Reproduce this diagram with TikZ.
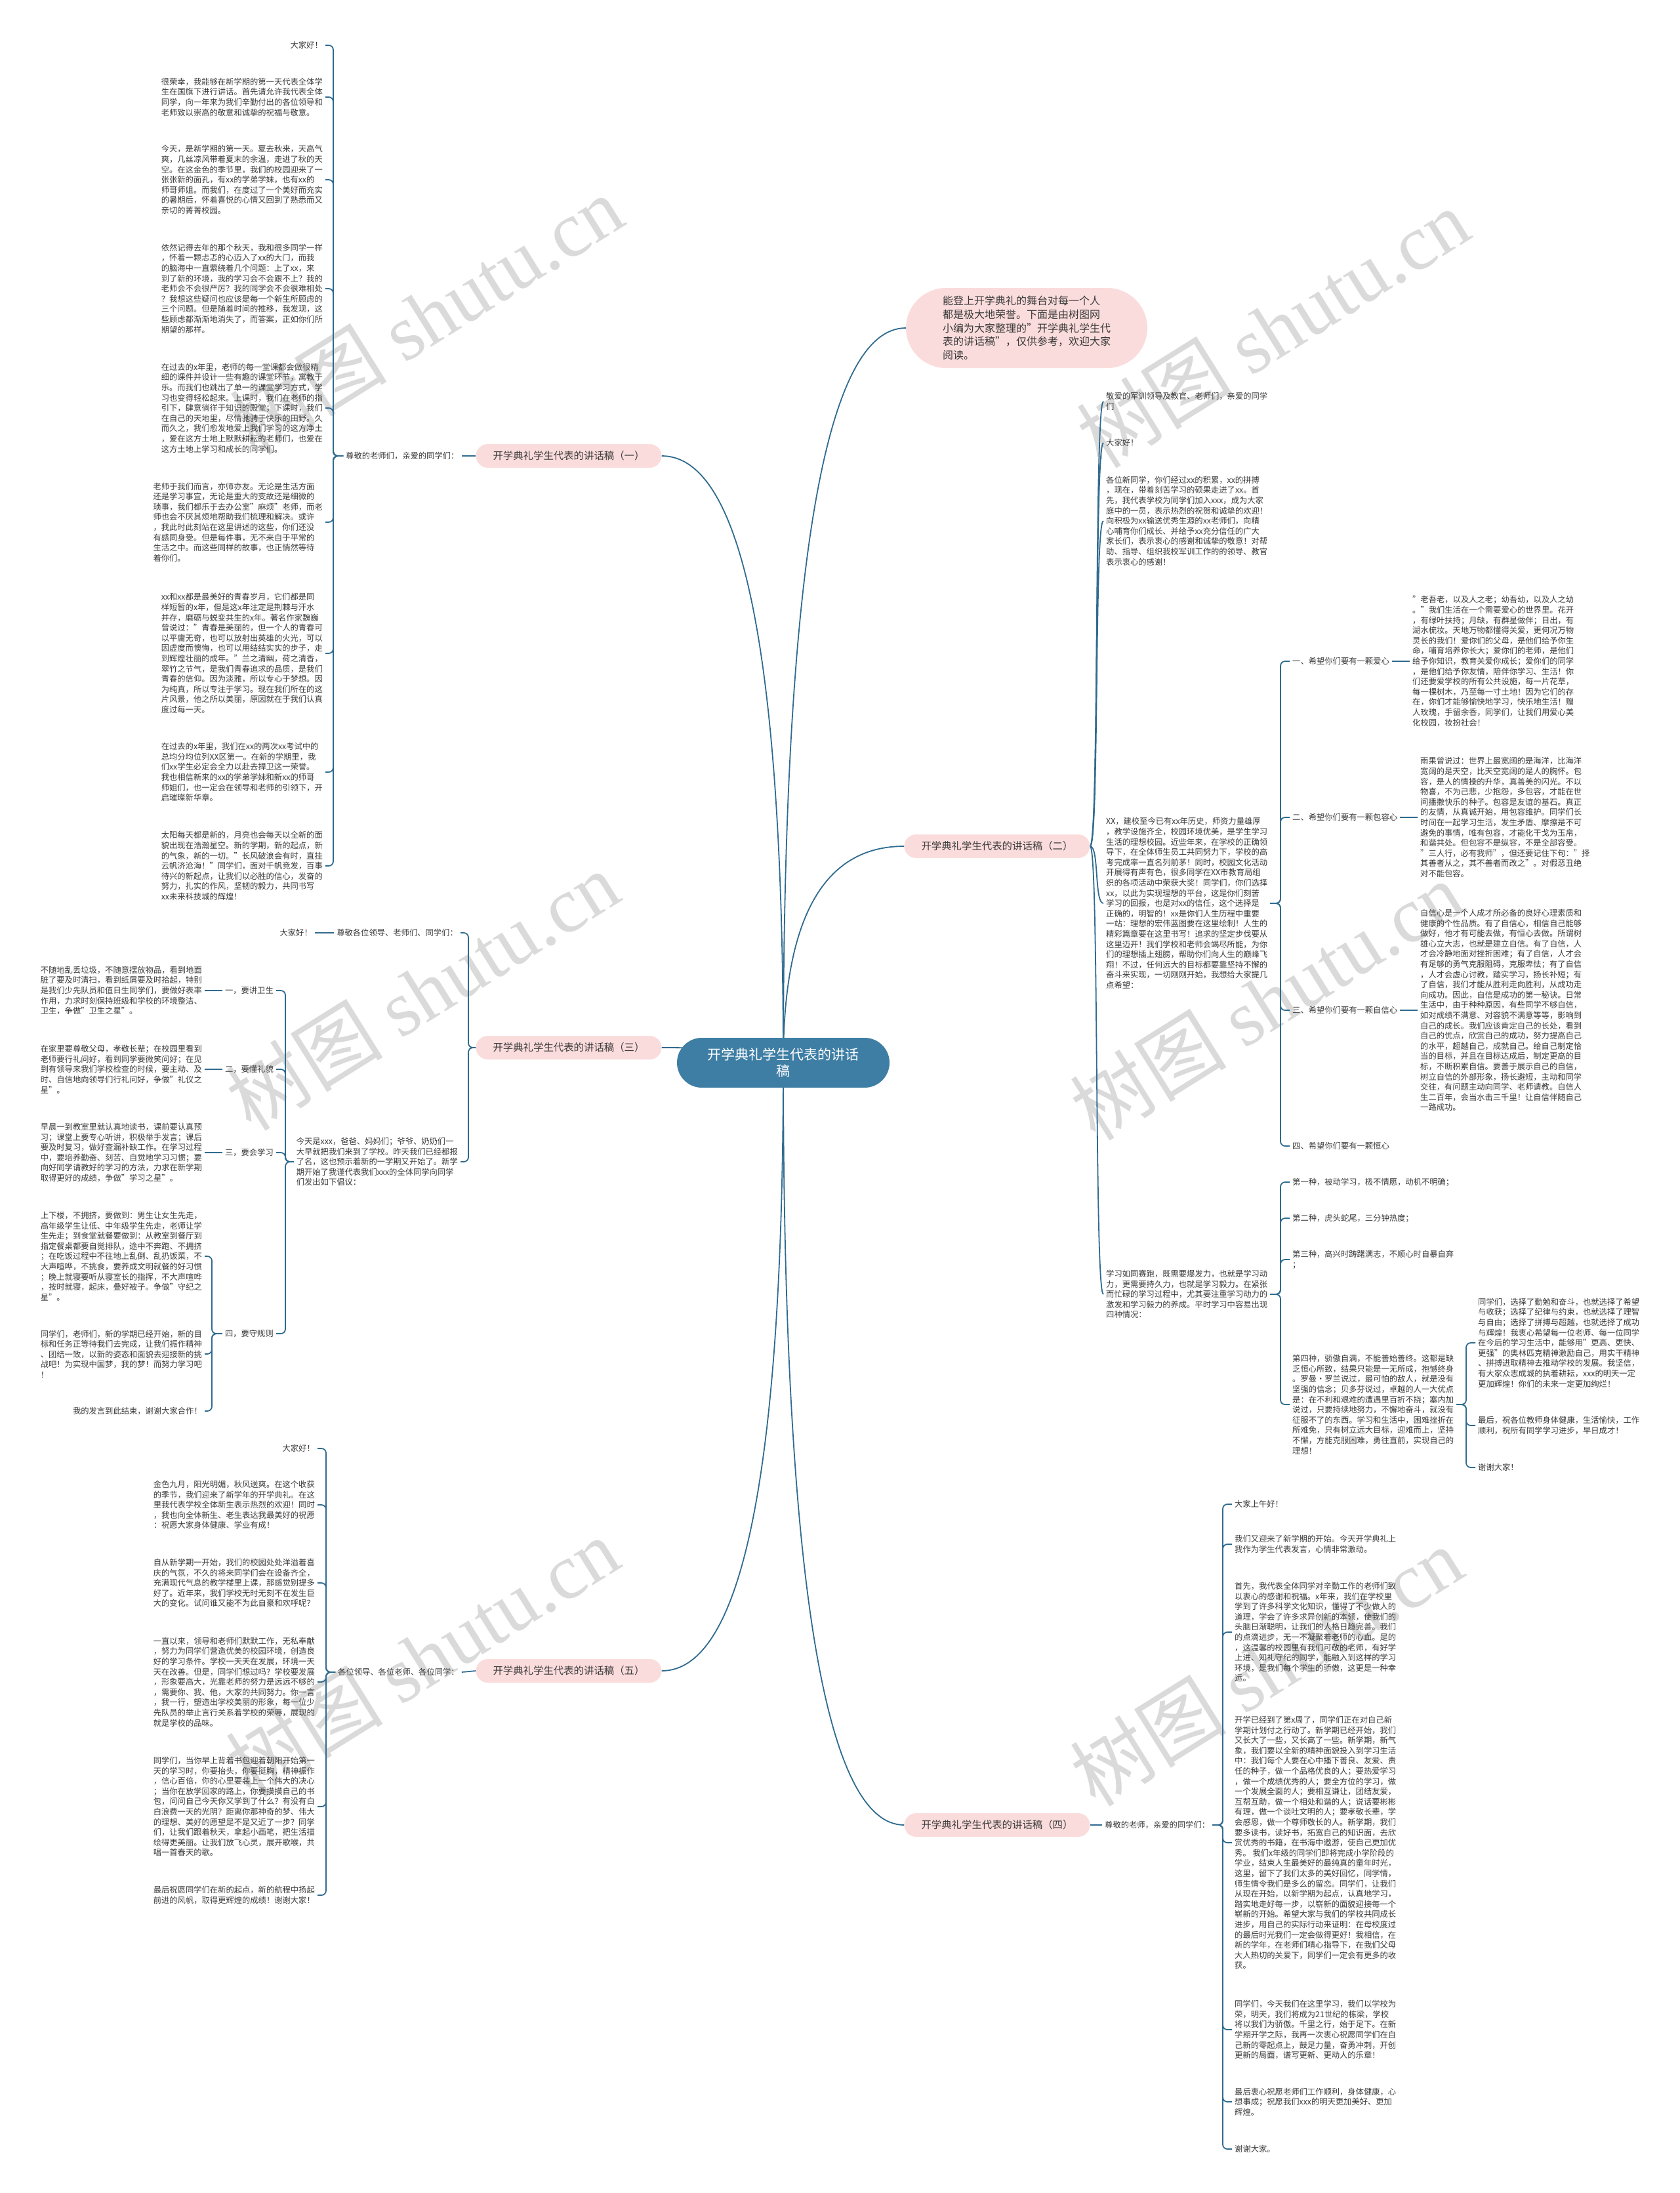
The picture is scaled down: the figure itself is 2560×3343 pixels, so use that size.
\documentclass[tikz,border=0pt]{standalone}
\usepackage{fontspec}
\setmainfont{Noto Sans CJK SC}
\newfontfamily\markfont{Liberation Serif}
\usetikzlibrary{calc}
\definecolor{ink}{HTML}{3A3A3A}
\definecolor{branchblue}{HTML}{2F6B8F}
\definecolor{rootblue}{HTML}{3E7EA4}
\definecolor{topicpink}{HTML}{FBDCDC}
\definecolor{markgray}{HTML}{DADADA}
\pgfdeclarelayer{background}
\pgfsetlayers{background,main}
\newcommand\leaffont{\fontsize{12.3}{15.6}\selectfont}
\newcommand\rootcurve[2]{\draw[edge] (#1) .. controls ($(#1)!0.667!(#1 |- #2)$) and ($(#2)!0.667!(#1 |- #2)$) .. (#2);}
\tikzset{
  edge/.style={draw=branchblue, line width=1.8},
  hook/.style={edge, rounded corners=7},
  root/.style={fill=rootblue, text=white, rounded corners=38, minimum width=324,
    minimum height=76, align=center, font=\fontsize{21}{25}\selectfont},
  topic/.style={fill=topicpink, text=ink, rounded corners=18, minimum width=283,
    minimum height=36, font=\fontsize{15.4}{18}\selectfont},
  intro/.style={fill=topicpink, text=ink, rounded corners=61, minimum width=368,
    minimum height=122, align=left, font=\fontsize{16}{20.7}\selectfont},
  leaf/.style={text=ink, align=left, inner sep=4, font=\leaffont},
  lleaf/.style={leaf, anchor=east},
  rleaf/.style={leaf, anchor=west},
  wmark/.style={text=markgray, rotate=32, font=\fontsize{120}{120}\selectfont}
}
\begin{document}
\begin{tikzpicture}[x=1pt,y=-1pt]
\useasboundingbox (0,0) rectangle (2560,3343);
\node[root] (root) at (1194,1620) {开学典礼学生代表的讲话\\稿};
\node[intro] (intro) at (1565,500) {能登上开学典礼的舞台对每一个人\\都是极大地荣誉。下面是由树图网\\小编为大家整理的"开学典礼学生代\\表的讲话稿"，仅供参考，欢迎大家\\阅读。};
\node[topic] (t1) at (867,695) {开学典礼学生代表的讲话稿（一）};
\node[topic] (t3) at (867,1597) {开学典礼学生代表的讲话稿（三）};
\node[topic] (t5) at (867,2547) {开学典礼学生代表的讲话稿（五）};
\node[topic] (t2) at (1520,1290) {开学典礼学生代表的讲话稿（二）};
\node[topic] (t4) at (1520,2782) {开学典礼学生代表的讲话稿（四）};

% speech one
\coordinate (sp1) at (508,0);
\node[rleaf] (a0) at (523,695) {尊敬的老师们，亲爱的同学们：};
\node[lleaf] (a1) at (496,69) {大家好！};
\node[lleaf] (a2) at (496,148) {很荣幸，我能够在新学期的第一天代表全体学\\生在国旗下进行讲话。首先请允许我代表全体\\同学，向一年来为我们辛勤付出的各位领导和\\老师致以崇高的敬意和诚挚的祝福与敬意。};
\node[lleaf] (a3) at (496,274) {今天，是新学期的第一天。夏去秋来，天高气\\爽，几丝凉风带着夏末的余温，走进了秋的天\\空。在这金色的季节里，我们的校园迎来了一\\张张新的面孔，有xx的学弟学妹，也有xx的\\师哥师姐。而我们，在度过了一个美好而充实\\的暑期后，怀着喜悦的心情又回到了熟悉而又\\亲切的菁菁校园。};
\node[lleaf] (a4) at (496,440) {依然记得去年的那个秋天，我和很多同学一样\\，怀着一颗忐忑的心迈入了xx的大门，而我\\的脑海中一直萦绕着几个问题：上了xx，来\\到了新的环境，我的学习会不会跟不上？我的\\老师会不会很严厉？我的同学会不会很难相处\\？我想这些疑问也应该是每一个新生所顾虑的\\三个问题。但是随着时间的推移，我发现，这\\些顾虑都渐渐地消失了，而答案，正如你们所\\期望的那样。};
\node[lleaf] (a5) at (496,622) {在过去的x年里，老师的每一堂课都会做很精\\细的课件并设计一些有趣的课堂环节，寓教于\\乐。而我们也跳出了单一的课堂学习方式，学\\习也变得轻松起来。上课时，我们在老师的指\\引下，肆意徜徉于知识的殿堂；下课时，我们\\在自己的天地里，尽情驰骋于快乐的田野。久\\而久之，我们愈发地爱上我们学习的这方净土\\，爱在这方土地上默默耕耘的老师们，也爱在\\这方土地上学习和成长的同学们。};
\node[lleaf] (a6) at (496,796) {老师于我们而言，亦师亦友。无论是生活方面\\还是学习事宜，无论是重大的变故还是细微的\\琐事，我们都乐于去办公室"麻烦"老师，而老\\师也会不厌其烦地帮助我们梳理和解决。或许\\，我此时此刻站在这里讲述的这些，你们还没\\有感同身受。但是每件事，无不来自于平常的\\生活之中。而这些同样的故事，也正悄然等待\\着你们。};
\node[lleaf] (a7) at (496,996) {xx和xx都是最美好的青春岁月，它们都是同\\样短暂的x年，但是这x年注定是荆棘与汗水\\并存，磨砺与蜕变共生的x年。著名作家魏巍\\曾说过："青春是美丽的，但一个人的青春可\\以平庸无奇，也可以放射出英雄的火光，可以\\因虚度而懊悔，也可以用结结实实的步子，走\\到辉煌壮丽的成年。"兰之清幽，荷之清香，\\翠竹之节气，是我们青春追求的品质，是我们\\青春的信仰。因为淡雅，所以专心于梦想。因\\为纯真，所以专注于学习。现在我们所在的这\\片风景，他之所以美丽，原因就在于我们认真\\度过每一天。};
\node[lleaf] (a8) at (496,1177) {在过去的x年里，我们在xx的两次xx考试中的\\总均分均位列XX区第一。在新的学期里，我\\们xx学生必定会全力以赴去捍卫这一荣誉。\\我也相信新来的xx的学弟学妹和新xx的师哥\\师姐们，也一定会在领导和老师的引领下，开\\启璀璨新华章。};
\node[lleaf] (a9) at (496,1320) {太阳每天都是新的，月亮也会每天以全新的面\\貌出现在浩瀚星空。新的学期，新的起点，新\\的气象，新的一切。"长风破浪会有时，直挂\\云帆济沧海！"同学们，面对千帆竞发，百事\\待兴的新起点，让我们以必胜的信心，发奋的\\努力，扎实的作风，坚韧的毅力，共同书写\\xx未来科技城的辉煌！};

% speech three
\coordinate (sp3) at (714,0);
\coordinate (sp3b) at (435,0);
\coordinate (sp3c) at (323,0);
\node[lleaf] (b0) at (702,1422) {尊敬各位领导、老师们、同学们：};
\node[lleaf] (b1) at (480,1422) {大家好！};
\node[lleaf] (b2) at (702,1771) {今天是xxx，爸爸、妈妈们；爷爷、奶奶们一\\大早就把我们来到了学校。昨天我们已经都报\\了名，这也预示着新的一学期又开始了。新学\\期开始了我谨代表我们xxx的全体同学向同学\\们发出如下倡议：};
\node[lleaf] (b3) at (421,1510) {一，要讲卫生};
\node[lleaf] (b4) at (421,1630) {二，要懂礼貌};
\node[lleaf] (b5) at (421,1757) {三，要会学习};
\node[lleaf] (b6) at (421,2033) {四，要守规则};
\node[lleaf] (b7) at (312,1510) {不随地乱丢垃圾，不随意摆放物品，看到地面\\脏了要及时清扫，看到纸屑要及时拾起，特别\\是我们少先队员和值日生同学们，要做好表率\\作用，力求时刻保持班级和学校的环境整洁、\\卫生，争做"卫生之星"。};
\node[lleaf] (b8) at (312,1630) {在家里要尊敬父母，孝敬长辈；在校园里看到\\老师要行礼问好，看到同学要微笑问好；在见\\到有领导来我们学校检查的时候，要主动、及\\时、自信地向领导们行礼问好，争做"礼仪之\\星"。};
\node[lleaf] (b9) at (312,1757) {早晨一到教室里就认真地读书，课前要认真预\\习；课堂上要专心听讲，积极举手发言；课后\\要及时复习，做好查漏补缺工作。在学习过程\\中，要培养勤奋、刻苦、自觉地学习习惯；要\\向好同学请教好的学习的方法，力求在新学期\\取得更好的成绩，争做"学习之星"。};
\node[lleaf] (b10) at (312,1915) {上下楼，不拥挤，要做到：男生让女生先走，\\高年级学生让低、中年级学生先走，老师让学\\生先走；到食堂就餐要做到：从教室到餐厅到\\指定餐桌都要自觉排队，途中不奔跑、不拥挤\\；在吃饭过程中不往地上乱倒、乱扔饭菜，不\\大声喧哗，不挑食，要养成文明就餐的好习惯\\；晚上就寝要听从寝室长的指挥，不大声喧哗\\，按时就寝，起床，叠好被子。争做"守纪之\\星"。};
\node[lleaf] (b11) at (312,2064) {同学们，老师们，新的学期已经开始，新的目\\标和任务正等待我们去完成，让我们振作精神\\、团结一致，以新的姿态和面貌去迎接新的挑\\战吧！为实现中国梦，我的梦！而努力学习吧\\！};
\node[lleaf] (b12) at (312,2151) {我的发言到此结束，谢谢大家合作！};

% speech five
\coordinate (sp5) at (497,0);
\node[rleaf] (e0) at (511,2549) {各位领导、各位老师、各位同学：};
\node[lleaf] (e1) at (484,2208) {大家好！};
\node[lleaf] (e2) at (484,2294) {金色九月，阳光明媚，秋风送爽。在这个收获\\的季节，我们迎来了新学年的开学典礼。在这\\里我代表学校全体新生表示热烈的欢迎！同时\\，我也向全体新生、老生表达我最美好的祝愿\\：祝愿大家身体健康、学业有成！};
\node[lleaf] (e3) at (484,2413) {自从新学期一开始，我们的校园处处洋溢着喜\\庆的气氛，不久的将来同学们会在设备齐全，\\充满现代气息的教学楼里上课，那感觉别提多\\好了。近年来，我们学校无时无刻不在发生巨\\大的变化。试问谁又能不为此自豪和欢呼呢？};
\node[lleaf] (e4) at (484,2564) {一直以来，领导和老师们默默工作，无私奉献\\，努力为同学们营造优美的校园环境，创造良\\好的学习条件。学校一天天在发展，环境一天\\天在改善。但是，同学们想过吗？学校要发展\\，形象要高大，光靠老师的努力是远远不够的\\，需要你、我、他，大家的共同努力。你一言\\，我一行，塑造出学校美丽的形象，每一位少\\先队员的举止言行关系着学校的荣辱，展现的\\就是学校的品味。};
\node[lleaf] (e5) at (484,2754) {同学们，当你早上背着书包迎着朝阳开始第一\\天的学习时，你要抬头，你要挺胸，精神振作\\，信心百倍，你的心里要装上一个伟大的决心\\；当你在放学回家的路上，你要摸摸自己的书\\包，问问自己今天你又学到了什么？有没有白\\白浪费一天的光阴？距离你那神奇的梦、伟大\\的理想、美好的愿望是不是又近了一步？同学\\们，让我们跟着秋天，拿起小画笔，把生活描\\绘得更美丽。让我们放飞心灵，展开歌喉，共\\唱一首春天的歌。};
\node[lleaf] (e6) at (484,2889) {最后祝愿同学们在新的起点，新的航程中扬起\\前进的风帆，取得更辉煌的成绩！谢谢大家！};

% speech two
\coordinate (sp2) at (1952,0);
\coordinate (sp2f) at (2235,0);
\node[rleaf] (c1) at (1682,612) {敬爱的军训领导及教官、老师们，亲爱的同学\\们};
\node[rleaf] (c2) at (1682,675) {大家好！};
\node[rleaf] (c3) at (1682,794) {各位新同学，你们经过xx的积累，xx的拼搏\\，现在，带着刻苦学习的硕果走进了xx。首\\先，我代表学校为同学们加入xxx，成为大家\\庭中的一员，表示热烈的祝贺和诚挚的欢迎！\\向积极为xx输送优秀生源的xx老师们，向精\\心哺育你们成长、并给予xx充分信任的广大\\家长们，表示衷心的感谢和诚挚的敬意！对帮\\助、指导、组织我校军训工作的的领导、教官\\表示衷心的感谢！};
\node[rleaf] (c4) at (1682,1377) {XX，建校至今已有xx年历史，师资力量雄厚\\，教学设施齐全，校园环境优美，是学生学习\\生活的理想校园。近些年来，在学校的正确领\\导下，在全体师生员工共同努力下，学校的高\\考完成率一直名列前茅！同时，校园文化活动\\开展得有声有色，很多同学在XX市教育局组\\织的各项活动中荣获大奖！同学们，你们选择\\xx，以此为实现理想的平台，这是你们刻苦\\学习的回报，也是对xx的信任，这个选择是\\正确的，明智的！xx是你们人生历程中重要\\一站：理想的宏伟蓝图要在这里绘制！人生的\\精彩篇章要在这里书写！追求的坚定步伐要从\\这里迈开！我们学校和老师会竭尽所能，为你\\们的理想插上翅膀，帮助你们向人生的巅峰飞\\翔！不过，任何远大的目标都要靠坚持不懈的\\奋斗来实现，一切刚刚开始，我想给大家提几\\点希望：};
\node[rleaf] (c5) at (1682,1973) {学习如同赛跑，既需要爆发力，也就是学习动\\力，更需要持久力，也就是学习毅力。在紧张\\而忙碌的学习过程中，尤其要注重学习动力的\\激发和学习毅力的养成。平时学习中容易出现\\四种情况：};
\node[rleaf] (d1) at (1966,1008) {一、希望你们要有一颗爱心};
\node[rleaf] (d2) at (1966,1246) {二、希望你们要有一颗包容心};
\node[rleaf] (d3) at (1966,1540) {三、希望你们要有一颗自信心};
\node[rleaf] (d4) at (1966,1747) {四、希望你们要有一颗恒心};
\node[rleaf] (dd1) at (2149,1008) {"老吾老，以及人之老；幼吾幼，以及人之幼\\。"我们生活在一个需要爱心的世界里。花开\\，有绿叶扶持；月缺，有群星做伴；日出，有\\湖水梳妆。天地万物都懂得关爱，更何况万物\\灵长的我们！爱你们的父母，是他们给予你生\\命，哺育培养你长大；爱你们的老师，是他们\\给予你知识，教育关爱你成长；爱你们的同学\\，是他们给予你友情，陪伴你学习、生活！你\\们还要爱学校的所有公共设施，每一片花草，\\每一棵树木，乃至每一寸土地！因为它们的存\\在，你们才能够愉快地学习，快乐地生活！赠\\人玫瑰，手留余香，同学们，让我们用爱心美\\化校园，妆扮社会！};
\node[rleaf] (dd2) at (2161,1246) {雨果曾说过：世界上最宽阔的是海洋，比海洋\\宽阔的是天空，比天空宽阔的是人的胸怀。包\\容，是人的情操的升华，真善美的闪光。不以\\物喜，不为己悲，少抱怨，多包容，才能在世\\间播撒快乐的种子。包容是友谊的基石。真正\\的友情，从真诚开始，用包容维护。同学们长\\时间在一起学习生活，发生矛盾、摩擦是不可\\避免的事情，唯有包容，才能化干戈为玉帛，\\和谐共处。但包容不是纵容，不是全部容受。\\"三人行，必有我师"，但还要记住下句："择\\其善者从之，其不善者而改之"。对假恶丑绝\\对不能包容。};
\node[rleaf] (dd3) at (2161,1540) {自信心是一个人成才所必备的良好心理素质和\\健康的个性品质。有了自信心，相信自己能够\\做好，他才有可能去做，有恒心去做。所谓树\\雄心立大志，也就是建立自信。有了自信，人\\才会冷静地面对挫折困难；有了自信，人才会\\有足够的勇气克服阻碍，克服卑怯；有了自信\\，人才会虚心讨教，踏实学习，扬长补短；有\\了自信，我们才能从胜利走向胜利，从成功走\\向成功。因此，自信是成功的第一秘诀。日常\\生活中，由于种种原因，有些同学不够自信，\\如对成绩不满意、对容貌不满意等等，影响到\\自己的成长。我们应该肯定自己的长处，看到\\自己的优点，欣赏自己的成功，努力提高自己\\的水平，超越自己，成就自己。给自己制定恰\\当的目标，并且在目标达成后，制定更高的目\\标，不断积累自信。要善于展示自己的自信，\\树立自信的外部形象，扬长避短，主动和同学\\交往，有问题主动向同学、老师请教。自信人\\生二百年，会当水击三千里！让自信伴随自己\\一路成功。};
\node[rleaf] (f1) at (1966,1802) {第一种，被动学习，极不情愿，动机不明确；};
\node[rleaf] (f2) at (1966,1857) {第二种，虎头蛇尾，三分钟热度；};
\node[rleaf] (f3) at (1966,1920) {第三种，高兴时踌躇满志，不顺心时自暴自弃\\；};
\node[rleaf] (f4) at (1966,2141) {第四种，骄傲自满，不能善始善终。这都是缺\\乏恒心所致，结果只能是一无所成，抱憾终身\\。罗曼•罗兰说过，最可怕的敌人，就是没有\\坚强的信念；贝多芬说过，卓越的人一大优点\\是：在不利和艰难的遭遇里百折不挠；塞内加\\说过，只要持续地努力，不懈地奋斗，就没有\\征服不了的东西。学习和生活中，困难挫折在\\所难免，只有树立远大目标，迎难而上，坚持\\不懈，方能克服困难，勇往直前，实现自己的\\理想！};
\node[rleaf] (g1) at (2249,2047) {同学们，选择了勤勉和奋斗，也就选择了希望\\与收获；选择了纪律与约束，也就选择了理智\\与自由；选择了拼搏与超越，也就选择了成功\\与辉煌！我衷心希望每一位老师、每一位同学\\在今后的学习生活中，能够用"更高、更快、\\更强"的奥林匹克精神激励自己，用实干精神\\、拼搏进取精神去推动学校的发展。我坚信，\\有大家众志成城的执着耕耘，xxx的明天一定\\更加辉煌！你们的未来一定更加绚烂！};
\node[rleaf] (g2) at (2249,2173) {最后，祝各位教师身体健康，生活愉快，工作\\顺利，祝所有同学学习进步，早日成才！};
\node[rleaf] (g3) at (2249,2237) {谢谢大家！};

% speech four
\coordinate (sp4) at (1864,0);
\node[rleaf] (h0) at (1680,2782) {尊敬的老师，亲爱的同学们：};
\node[rleaf] (h1) at (1878,2293) {大家上午好！};
\node[rleaf] (h2) at (1878,2354) {我们又迎来了新学期的开始。今天开学典礼上\\我作为学生代表发言，心情非常激动。};
\node[rleaf] (h3) at (1878,2488) {首先，我代表全体同学对辛勤工作的老师们致\\以衷心的感谢和祝福。x年来，我们在学校里\\学到了许多科学文化知识，懂得了不少做人的\\道理，学会了许多求异创新的本领，使我们的\\头脑日渐聪明，让我们的人格日趋完善。我们\\的点滴进步，无一不凝聚着老师的心血。是的\\，这温馨的校园里有我们可敬的老师，有好学\\上进、知礼守纪的同学，能融入到这样的学习\\环境，是我们每个学生的骄傲，这更是一种幸\\运。};
\node[rleaf] (h4) at (1878,2809) {开学已经到了第x周了，同学们正在对自己新\\学期计划付之行动了。新学期已经开始，我们\\又长大了一些，又长高了一些。新学期，新气\\象，我们要以全新的精神面貌投入到学习生活\\中：我们每个人要在心中播下善良、友爱、责\\任的种子，做一个品格优良的人；要热爱学习\\，做一个成绩优秀的人；要全方位的学习，做\\一个发展全面的人；要相互谦让，团结友爱，\\互帮互助，做一个相处和谐的人；说话要彬彬\\有理，做一个谈吐文明的人；要孝敬长辈，学\\会感恩，做一个尊师敬长的人。新学期，我们\\要多读书，读好书，拓宽自己的知识面，去欣\\赏优秀的书籍，在书海中遨游，使自己更加优\\秀。 我们x年级的同学们即将完成小学阶段的\\学业，结束人生最美好的最纯真的童年时光，\\这里，留下了我们太多的美好回忆，同学情，\\师生情令我们是多么的留恋。同学们，让我们\\从现在开始，以新学期为起点，认真地学习，\\踏实地走好每一步，以崭新的面貌迎接每一个\\崭新的开始。希望大家与我们的学校共同成长\\进步，用自己的实际行动来证明：在母校度过\\的最后时光我们一定会做得更好！我相信，在\\新的学年，在老师们精心指导下，在我们父母\\大人热切的关爱下，同学们一定会有更多的收\\获。};
\node[rleaf] (h5) at (1878,3094) {同学们，今天我们在这里学习，我们以学校为\\荣，明天，我们将成为21世纪的栋梁，学校\\将以我们为骄傲。千里之行，始于足下。在新\\学期开学之际，我再一次衷心祝愿同学们在自\\己新的零起点上，鼓足力量，奋勇冲刺，开创\\更新的局面，谱写更新、更动人的乐章！};
\node[rleaf] (h6) at (1878,3204) {最后衷心祝愿老师们工作顺利，身体健康，心\\想事成；祝愿我们xxx的明天更加美好、更加\\辉煌。};
\node[rleaf] (h7) at (1878,3276) {谢谢大家。};

\begin{pgfonlayer}{background}
\fill[white] (0,0) rectangle (2560,3343);
\foreach \x/\y/\name in {650/480/wm1,1940/500/wm2,644/1510/wm3,1930/1525/wm4,644/2526/wm5,1930/2540/wm6}
  \node[wmark] (\name) at (\x,\y) {树图 {\markfont shutu.cn}};
% root to topics
\rootcurve{root.center}{intro.west}
\rootcurve{root.center}{t2.west}
\rootcurve{root.center}{t4.west}
\rootcurve{root.center}{t1.east}
\rootcurve{root.center}{t3.east}
\rootcurve{root.center}{t5.east}
% left trees
\draw[edge] (t1.west)--(a0.east);
\foreach \c in {a1,a2,a3,a4,a5,a6,a7,a8,a9} \draw[hook] (a0.west)--(a0.west -| sp1) |- (\c.east);
\foreach \c in {b0,b2} \draw[hook] (t3.west)--(t3.west -| sp3) |- (\c.east);
\draw[edge] (b0.west)--(b1.east);
\foreach \c in {b3,b4,b5,b6} \draw[hook] (b2.west)--(b2.west -| sp3b) |- (\c.east);
\foreach \a/\b in {b3/b7,b4/b8,b5/b9} \draw[edge] (\a.west)--(\b.east);
\foreach \c in {b10,b11,b12} \draw[hook] (b6.west)--(b6.west -| sp3c) |- (\c.east);
\draw[edge] (t5.west)--(e0.east);
\foreach \c in {e1,e2,e3,e4,e5,e6} \draw[hook] (e0.west)--(e0.west -| sp5) |- (\c.east);
% right trees
\foreach \c in {c1,c2,c3,c4,c5} \draw[edge] (t2.east) .. controls +(14,0) and +(-14,0) .. (\c.west);
\foreach \c in {d1,d2,d3,d4} \draw[hook] (c4.east)--(c4.east -| sp2) |- (\c.west);
\foreach \a/\b in {d1/dd1,d2/dd2,d3/dd3} \draw[edge] (\a.east)--(\b.west);
\foreach \c in {f1,f2,f3,f4} \draw[hook] (c5.east)--(c5.east -| sp2) |- (\c.west);
\foreach \c in {g1,g2,g3} \draw[hook] (f4.east)--(f4.east -| sp2f) |- (\c.west);
\draw[edge] (t4.east)--(h0.west);
\foreach \c in {h1,h2,h3,h4,h5,h6,h7} \draw[hook] (h0.east)--(h0.east -| sp4) |- (\c.west);
\end{pgfonlayer}
\end{tikzpicture}
\end{document}
